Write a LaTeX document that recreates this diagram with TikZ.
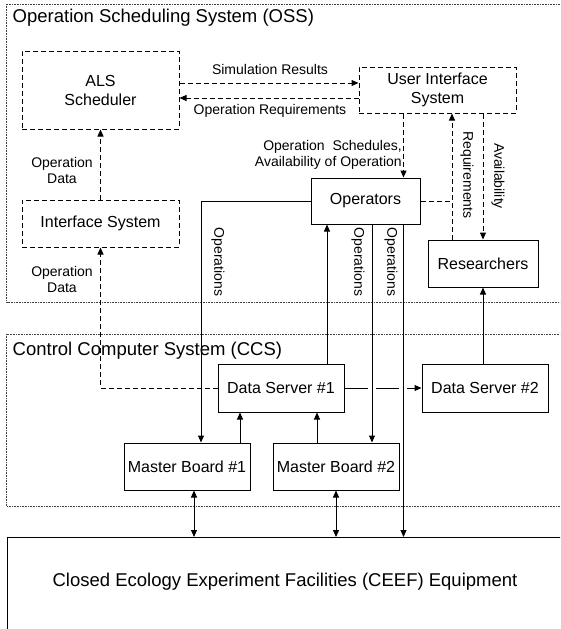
\documentclass[tikz,border=0pt]{standalone}
\usepackage{fontspec}
\setmainfont{Liberation Sans}
\usetikzlibrary{arrows.meta,calc}
\begin{document}
\begin{tikzpicture}[x=1pt,y=-1pt,
  box/.style={draw, line width=1pt, inner sep=0pt, align=center,
    font=\fontsize{16}{19}\selectfont},
  dbox/.style={box, dash pattern=on 5pt off 3pt},
  lbl/.style={inner sep=0pt, align=center, font=\fontsize{14}{16}\selectfont},
  vlbl/.style={lbl, rotate=-90},
  link/.style={line width=1pt},
  dlink/.style={link, dash pattern=on 5pt off 3pt},
  tip/.style={-{Triangle[length=7pt,width=6pt]}},
  tips/.style={{Triangle[length=7pt,width=6pt]}-{Triangle[length=7pt,width=6pt]}},
  region/.style={draw=black!75, line width=0.7pt, dash pattern=on 0.8pt off 0.8pt},
  title/.style={inner sep=0pt, anchor=base west, font=\fontsize{18.5}{21}\selectfont}]
\useasboundingbox (0,0) rectangle (560,629);
\clip (0,0) rectangle (560,629);

% system regions
\draw[region] (6.5,4) rectangle (570,302);
\node[title] (osst) at (12.5,23) {Operation Scheduling System (OSS)};
\draw[region] (6.5,334) rectangle (570,506);
\node[title] (ccst) at (12.5,355) {Control Computer System (CCS)};

% OSS components
\node[dbox, minimum width=157pt, minimum height=78pt] (als) at (100.5,90) {ALS\\Scheduler};
\node[dbox, minimum width=157pt, minimum height=46pt] (uis) at (437.5,90) {User Interface\\System};
\node[dbox, minimum width=157pt, minimum height=47pt] (ifs) at (100.5,223.5) {Interface System};
\node[box, minimum width=109pt, minimum height=46pt] (ops) at (365.5,201) {Operators};
\node[box, minimum width=110pt, minimum height=47pt] (res) at (483,263.5) {Researchers};

% CCS components
\node[box, minimum width=126pt, minimum height=48pt] (ds1) at (281,388) {Data Server \#1};
\node[box, minimum width=126pt, minimum height=48pt] (ds2) at (485,388) {Data Server \#2};
\node[box, minimum width=126pt, minimum height=47pt] (mb1) at (187,466.5) {Master Board \#1};
\node[box, minimum width=126pt, minimum height=47pt] (mb2) at (336,466.5) {Master Board \#2};

% equipment
\node[draw, line width=1pt, inner sep=0pt, anchor=north west,
  minimum width=600pt, minimum height=200pt] (ceef) at (7,537) {};
\node[inner sep=0pt, font=\fontsize{18.5}{21}\selectfont] (ceeft) at (285,582)
  {Closed Ecology Experiment Facilities (CEEF) Equipment};

% scheduler <-> user interface
\draw[dlink,tip] ([yshift=7pt]als.east) -- ([yshift=7pt]als.east -| uis.west);
\draw[dlink,tip] ([yshift=-8pt]als.east -| uis.west) -- ([yshift=-8pt]als.east);
\node[lbl] (simr) at (270,69) {Simulation Results};
\node[lbl] (opreq) at (270,111) {Operation Requirements};

% operation data flow
\draw[dlink,tip] (ifs.north) -- (als.south);
\node[lbl] (opd1) at (62,170) {Operation\\Data};
\draw[dlink,tip] (ds1.west) -| (ifs.south);
\node[lbl] (opd2) at (62,279) {Operation\\Data};

% user interface <-> operators / researchers
\draw[dlink,tip] ([xshift=38pt]ops.north |- uis.south) -- ([xshift=38pt]ops.north);
\node[lbl, align=right, anchor=east] (sched) at (402,155)
  {Operation\ \ Schedules,\\Availability of Operation};
\coordinate (reqfoot) at ([xshift=-31pt]res.north);
\draw[dlink,tip] (reqfoot) -- (reqfoot |- uis.south);
\draw[dlink] (ops.east) -- (ops.east -| reqfoot);
\node[vlbl] (reql) at (467,175) {Requirements};
\draw[dlink,tip] (uis.south -| res.north) -- (res.north);
\node[vlbl] (avl) at (498,176) {Availability};

% data server #1 -> data server #2, broken at the crossings
\draw[link,tip] (ds1.east) -- (ds2.west);
\fill[white] (368,385) rectangle (376,391);
\fill[white] (399,385) rectangle (407,391);

% operations flow
\draw[link,tip] (ops.west) -| ([xshift=14pt]mb1.north);
\node[vlbl] (opl1) at (218,262) {Operations};
\draw[link,tip] ([xshift=6.5pt]ops.south) -- ([xshift=6.5pt]ops.south |- mb2.north);
\node[vlbl] (opl2) at (358,262) {Operations};
\draw[link,tip] ([xshift=38pt]ops.south) -- ([xshift=38pt]ops.south |- ceef.north);
\node[vlbl] (opl3) at (391,262) {Operations};
\draw[link,tip] ([xshift=46pt]ds1.north) -- ([xshift=46pt]ds1.north |- ops.south);
\draw[link,tip] (ds2.north -| res.south) -- (res.south);

% master boards
\draw[link,tip] ([xshift=53pt]mb1.north) -- ([xshift=53pt]mb1.north |- ds1.south);
\draw[link,tip] ([xshift=-19pt]mb2.north) -- ([xshift=-19pt]mb2.north |- ds1.south);
\draw[link,tips] ([xshift=7pt]mb1.south) -- ([xshift=7pt]mb1.south |- ceef.north);
\draw[link,tips] (mb2.south) -- (mb2.south |- ceef.north);
\end{tikzpicture}
\end{document}
